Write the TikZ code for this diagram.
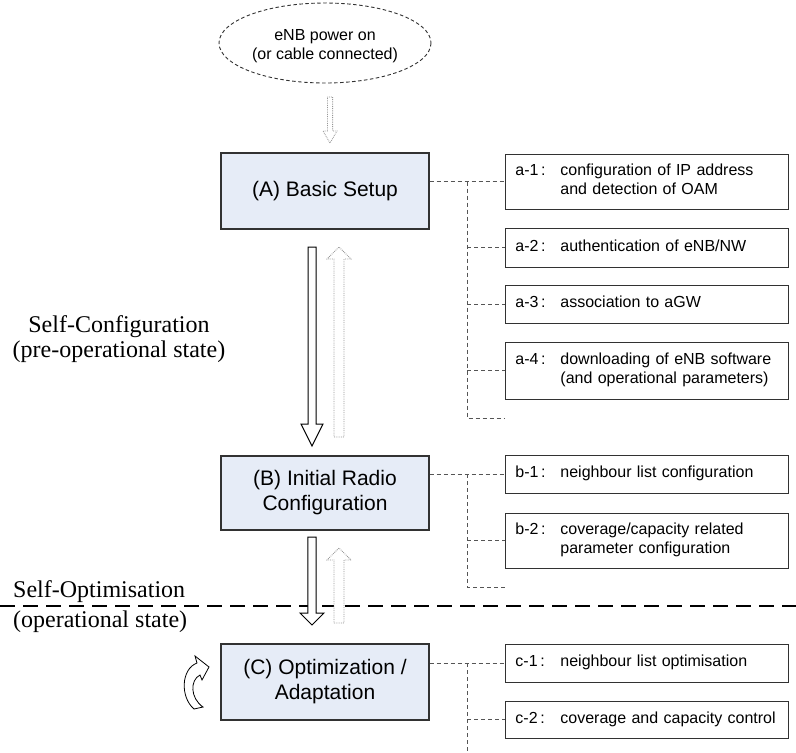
\documentclass[tikz,border=0pt]{standalone}
\usepackage{fontspec}
\setmainfont{Liberation Sans}
\newfontfamily\timesf{Liberation Serif}
\usetikzlibrary{calc}
\definecolor{boxfill}{RGB}{230,236,247}
\definecolor{edge}{RGB}{50,50,50}
\definecolor{dash}{RGB}{85,85,85}
\definecolor{dotgray}{RGB}{150,150,150}
\newcommand\blockarr[7]{\draw[#7] ({#1-#5},#2) -- ({#1+#5},#2) -- ({#1+#5},#3) -- ({#1+#6},#3) -- (#1,#4) -- ({#1-#6},#3) -- ({#1-#5},#3) -- cycle;}
\tikzset{
  mainbox/.style={draw=edge, line width=1.3pt, fill=boxfill, minimum width=208pt, align=center, inner sep=0pt, font=\fontsize{21}{25}\selectfont},
  subbox/.style={draw=edge, line width=0.9pt, anchor=west, minimum width=283pt, text width=263pt, inner xsep=10pt, inner ysep=0pt, align=left, font=\fontsize{16}{19}\selectfont},
  conn/.style={draw=dash, line width=0.8pt, dash pattern=on 4pt off 3pt},
  solidarr/.style={draw=black, line width=1pt, fill=white},
  dotarr/.style={draw=dotgray, line width=0.8pt, densely dotted, fill=white},
  sidelabel/.style={font=\timesf\fontsize{24}{25}\selectfont, inner sep=0pt}
}
\newcommand\lbl[3]{\begin{tabular}{@{}p{45pt}@{}l@{}}#1&#2\\&#3\end{tabular}}
\newcommand\lblone[2]{\begin{tabular}{@{}p{45pt}@{}l@{}}#1&#2\end{tabular}}
\begin{document}
\begin{tikzpicture}[x=1pt,y=-1pt]
\useasboundingbox (0,0) rectangle (796,753);

% start ellipse
\draw[draw=edge, line width=0.9pt, dash pattern=on 3.5pt off 2.5pt] (325,43) ellipse [x radius=106, y radius=40];
\node[align=center, font=\fontsize{16}{19}\selectfont, inner sep=0pt] (start) at (325,46) {eNB power on\\(or cable connected)};

% main boxes
\node[mainbox, minimum height=76pt] (A) at (325,191) {(A) Basic Setup};
\node[mainbox, minimum height=74pt] (B) at (325,493) {(B) Initial Radio\\Configuration};
\node[mainbox, minimum height=76pt] (C) at (325,682) {(C) Optimization /\\Adaptation};

% sub boxes
\node[subbox, minimum height=55pt] (a1) at (505,181.5) {\lbl{a-1\,:}{configuration of IP address}{and detection of OAM}};
\node[subbox, minimum height=39pt] (a2) at (505,247.5) {\lblone{a-2\,:}{authentication of eNB/NW}};
\node[subbox, minimum height=38pt] (a3) at (505,304) {\lblone{a-3\,:}{association to aGW}};
\node[subbox, minimum height=57pt] (a4) at (505,370.5) {\lbl{a-4\,:}{downloading of eNB software}{(and operational parameters)}};
\node[subbox, minimum height=38pt] (b1) at (505,474) {\lblone{b-1\,:}{neighbour list configuration}};
\node[subbox, minimum height=55pt] (b2) at (505,540.5) {\lbl{b-2\,:}{coverage/capacity related}{parameter configuration}};
\node[subbox, minimum height=38pt] (c1) at (505,663) {\lblone{c-1\,:}{neighbour list optimisation}};
\node[subbox, minimum height=37pt] (c2) at (505,719.5) {\lblone{c-2\,:}{coverage and capacity control}};

% dashed connectors
\coordinate (ja) at (467,181.5);
\coordinate (aend) at (505,418);
\draw[conn] (A.east |- a1) -- (a1.west);
\draw[conn] (ja) |- (aend);
\draw[conn] (ja |- a2) -- (a2.west);
\draw[conn] (ja |- a3) -- (a3.west);
\draw[conn] (ja |- a4) -- (a4.west);

\coordinate (jb) at (467,474);
\coordinate (bend) at (505,587);
\draw[conn] (B.east |- b1) -- (b1.west);
\draw[conn] (jb) |- (bend);
\draw[conn] (jb |- b2) -- (b2.west);

\coordinate (jc) at (467,663);
\coordinate (cend) at (467,753);
\draw[conn] (C.east |- c1) -- (c1.west);
\draw[conn] (jc) -- (cend);
\draw[conn] (jc |- c2) -- (c2.west);

% block arrows
\blockarr{330}{97}{131}{143}{2.6}{7}{dotarr}
\blockarr{312}{247}{424}{446}{4}{11}{solidarr}
\blockarr{339}{437}{259}{247}{5}{12}{dotarr}

% phase separator
\draw[black, line width=1.5pt, dash pattern=on 15pt off 8pt] (0,606) -- (796,606);

\blockarr{312}{537}{613}{625}{4.2}{12}{solidarr}
\blockarr{339}{623}{560}{548}{5}{12}{dotarr}

% side labels
\node[sidelabel, align=center] (sc) at (119,339.5) {Self-Configuration\\(pre-operational state)};
\node[sidelabel, anchor=west] (so) at (13,592) {Self-Optimisation};
\node[sidelabel, anchor=west] (op) at (13,622) {(operational state)};

% curved loop arrow
\draw[black, line width=0.8pt, fill=white]
  (200,675) .. controls (190,680) and (190,698) .. (203,707)
  -- (194,709)
  .. controls (180,697) and (181,669) .. (197,663)
  -- (195,656) -- (209,667) -- (202,680) -- cycle;
\end{tikzpicture}
\end{document}
